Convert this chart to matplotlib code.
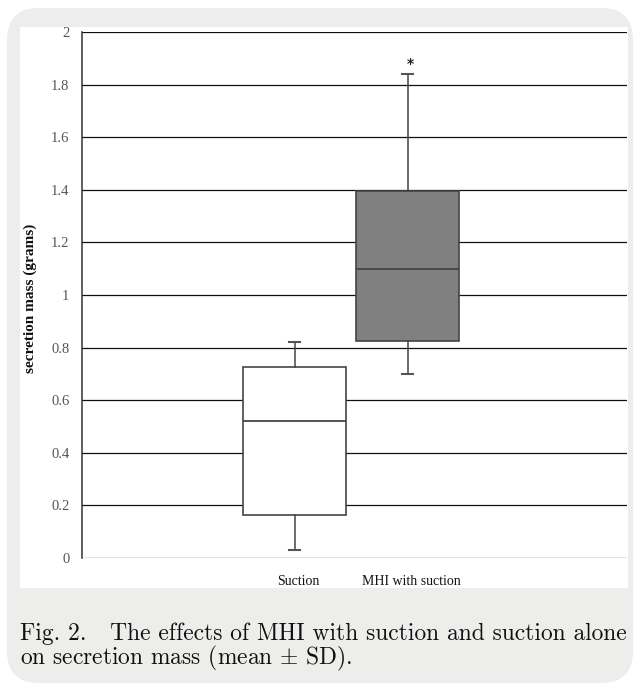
import matplotlib
matplotlib.use("Agg")
import matplotlib.pyplot as plt
from matplotlib.patches import FancyBboxPatch, Rectangle

# data
groups = ["Suction", "MHI with suction"]
whisker_low = [0.03, 0.70]
q1 = [0.165, 0.825]
medians = [0.52, 1.10]
q3 = [0.725, 1.395]
whisker_high = [0.82, 1.84]
box_colors = ["white", "#808080"]
y_ticks = [0, 0.2, 0.4, 0.6, 0.8, 1, 1.2, 1.4, 1.6, 1.8, 2]
y_tick_labels = ["0", "0.2", "0.4", "0.6", "0.8", "1", "1.2", "1.4", "1.6", "1.8", "2"]

plt.rcParams["mathtext.fontset"] = "cm"

W, H = 635, 684
fig = plt.figure(figsize=(W / 100, H / 100), dpi=100)

# background panel in pixel coords
bg = fig.add_axes([0, 0, 1, 1])
bg.set_xlim(0, W)
bg.set_ylim(H, 0)
bg.axis("off")
r = 32
bg.add_patch(FancyBboxPatch((7 + r, 8 + r), 626 - 2 * r, 675 - 2 * r,
                            boxstyle="round,pad=%d" % r, fc="#ededeb", ec="none"))
bg.add_patch(Rectangle((20, 27), 608, 561, fc="white", ec="none"))

bg.text(20, 634, "Fig. 2.   The effects of MHI with suction and suction alone",
        family="cmr10", fontsize=16.9, va="center", ha="left", color="#111111")
bg.text(20, 658, r"on secretion mass (mean $\pm$ SD).",
        family="cmr10", fontsize=16.9, va="center", ha="left", color="#111111")

# label for the y axis, placed in pixel coords
bg.text(30, 298, "secretion mass (grams)", rotation=90, ha="center", va="center",
        family="Liberation Serif", fontsize=11, fontweight="bold", color="#111111")

ax = fig.add_axes([82 / W, (H - 558) / H, (627 - 82) / W, (558 - 32) / H])
ax.set_xlim(-0.88, 3.94)
ax.set_ylim(0, 2)
ax.set_yticks(y_ticks)
ax.set_yticklabels(y_tick_labels, family="Liberation Serif", fontsize=10.5, color="#555555")
ax.tick_params(axis="y", length=0, pad=9)
ax.set_xticks([])
for s in ["top", "right", "bottom"]:
    ax.spines[s].set_visible(False)
ax.spines["left"].set_color("#333333")
ax.spines["left"].set_linewidth(1.1)
for y in y_ticks:
    ax.axhline(y, color="#111111", lw=0.9, zorder=1)

stats = []
for i in range(len(groups)):
    stats.append({"label": groups[i], "whislo": whisker_low[i], "q1": q1[i],
                  "med": medians[i], "q3": q3[i], "whishi": whisker_high[i],
                  "fliers": []})

bp = ax.bxp(stats, positions=[1, 2], widths=0.91, patch_artist=True,
            showfliers=False, manage_ticks=False,
            medianprops=dict(color="#444444", lw=1.3),
            whiskerprops=dict(color="#444444", lw=1.1),
            capprops=dict(color="#555555", lw=1.5),
            boxprops=dict(edgecolor="#444444", lw=1.2))
for patch, c in zip(bp["boxes"], box_colors):
    patch.set_facecolor(c)
    patch.set_zorder(3)
for k in ["medians", "whiskers", "caps"]:
    for ln in bp[k]:
        ln.set_zorder(4)
for cap in bp["caps"]:
    cap.set_xdata([cap.get_xdata()[0] + 0.18, cap.get_xdata()[1] - 0.18])

ax.text(2.02, whisker_high[1] + 0.04, "*", ha="center", va="center",
        fontsize=10, fontweight="bold", color="#222222")

for i, g in enumerate(groups):
    ax.text(i + 1.03, -0.09, g, ha="center", va="center",
            family="Liberation Serif", fontsize=10, color="#111111")

fig.savefig("out.png", dpi=100)
